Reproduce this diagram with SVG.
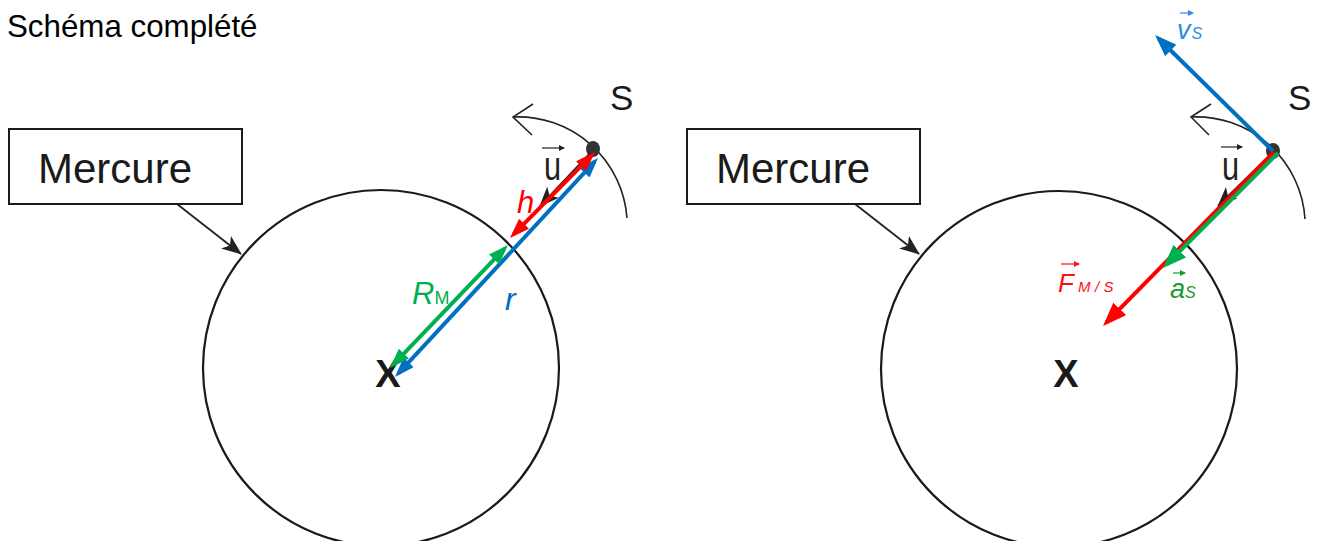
<svg xmlns="http://www.w3.org/2000/svg" width="1319" height="541" viewBox="0 0 1319 541">
<style>
text{font-family:"Liberation Sans",Arial,sans-serif}
.it{font-style:italic}
.planet{fill:none;stroke:#1a1a1a;stroke-width:2.2}
.box{fill:#fff;stroke:#1a1a1a;stroke-width:2}
.orbit{fill:none;stroke:#222;stroke-width:1.6}
.ptr{stroke:#222;stroke-width:1.8;fill:none}
.blue{stroke:#0070C0;stroke-width:4}
.red{stroke:#FF0000;stroke-width:4}
.green{stroke:#00B050;stroke-width:4}
.tiny{stroke-width:1.2}
</style>
<defs>
<marker id="mB" viewBox="0 0 20 14" refX="15" refY="7" markerWidth="20" markerHeight="14" markerUnits="userSpaceOnUse" orient="auto-start-reverse"><path d="M0,0 L20,7 L0,14 z" fill="#0070C0"/></marker>
<marker id="mR" viewBox="0 0 20 14" refX="15" refY="7" markerWidth="20" markerHeight="14" markerUnits="userSpaceOnUse" orient="auto-start-reverse"><path d="M0,0 L20,7 L0,14 z" fill="#FF0000"/></marker>
<marker id="mG" viewBox="0 0 20 14" refX="15" refY="7" markerWidth="20" markerHeight="14" markerUnits="userSpaceOnUse" orient="auto-start-reverse"><path d="M0,0 L20,7 L0,14 z" fill="#00B050"/></marker>
<marker id="mB2" viewBox="0 0 22 16" refX="17" refY="8" markerWidth="22" markerHeight="16" markerUnits="userSpaceOnUse" orient="auto"><path d="M0,0 L22,8 L0,16 z" fill="#0070C0"/></marker>
<marker id="mR2" viewBox="0 0 24 18" refX="19" refY="9" markerWidth="24" markerHeight="18" markerUnits="userSpaceOnUse" orient="auto"><path d="M0,0 L24,9 L0,18 z" fill="#FF0000"/></marker>
<marker id="mG2" viewBox="0 0 24 18" refX="19" refY="9" markerWidth="24" markerHeight="18" markerUnits="userSpaceOnUse" orient="auto"><path d="M0,0 L24,9 L0,18 z" fill="#00B050"/></marker>
<marker id="mK" viewBox="0 0 20 16" refX="19" refY="8" markerWidth="20" markerHeight="16" markerUnits="userSpaceOnUse" orient="auto"><path d="M0,0 L20,8 L0,16 L5,8 z" fill="#222"/></marker>
<marker id="mKs" viewBox="0 0 6 6" refX="5" refY="3" markerWidth="6" markerHeight="6" markerUnits="userSpaceOnUse" orient="auto"><path d="M0,0 L6,3 L0,6 z" fill="context-stroke"/></marker>
</defs>

<text x="7" y="37" font-size="31.3" fill="#000">Schéma complété</text>

<!-- LEFT SCENE -->
<g id="planet-left">
<circle class="planet" cx="381" cy="368" r="178"/>
<text x="388" y="387" font-size="38" font-weight="bold" text-anchor="middle" fill="#1a1a1a">X</text>
</g>
<g id="mercure-left">
<rect class="box" x="9" y="129" width="233" height="75"/>
<text x="38" y="183" font-size="42" fill="#1a1a1a">Mercure</text>
</g>
<g id="satellite-left">
<path class="orbit" d="M513,117 A109,109 0 0 1 627,218"/>
<path class="orbit" d="M533,104 L513,117 L532,135"/>
<ellipse cx="593" cy="149" rx="7" ry="8" fill="#333"/>
<text x="610" y="110" font-size="35" fill="#1a1a1a">S</text>
</g>

<!-- RIGHT SCENE -->
<g id="planet-right">
<circle class="planet" cx="1059" cy="369" r="178"/>
<text x="1066" y="387" font-size="38" font-weight="bold" text-anchor="middle" fill="#1a1a1a">X</text>
</g>
<g id="mercure-right">
<rect class="box" x="687" y="129" width="233" height="75"/>
<text x="716" y="183" font-size="42" fill="#1a1a1a">Mercure</text>
</g>
<g id="satellite-right">
<path class="orbit" d="M1191,117 A109,109 0 0 1 1305,219"/>
<path class="orbit" d="M1211,104 L1191,117 L1209,135"/>
<ellipse cx="1273" cy="151" rx="7" ry="8" fill="#333"/>
<text x="1288" y="110" font-size="35" fill="#1a1a1a">S</text>
</g>

<g id="connectors">
<line class="ptr" x1="177" y1="204" x2="241" y2="254" marker-end="url(#mK)"/>
<line class="ptr" x1="855" y1="204" x2="919" y2="254" marker-end="url(#mK)"/>
<!-- unit vectors u -->
<line class="ptr" x1="590" y1="153" x2="540" y2="206" marker-end="url(#mK)"/>
<line class="ptr" x1="1270" y1="155" x2="1218" y2="206" marker-end="url(#mK)"/>
<!-- left dimension arrows -->
<line class="blue" x1="594.6" y1="161.7" x2="398.4" y2="373.3" marker-start="url(#mB)" marker-end="url(#mB)"/>
<line class="red" x1="591.5" y1="155.6" x2="513.5" y2="234.4" marker-start="url(#mR)" marker-end="url(#mR)"/>
<line class="green" x1="504.5" y1="248.6" x2="393.5" y2="364.4" marker-start="url(#mG)" marker-end="url(#mG)"/>
<!-- right vectors -->
<line class="blue" x1="1273" y1="151" x2="1158.6" y2="38.5" marker-end="url(#mB2)"/>
<line class="red" x1="1274" y1="152" x2="1106.5" y2="322.4" marker-end="url(#mR2)"/>
<line class="green" x1="1278" y1="153" x2="1166.5" y2="264.5" marker-end="url(#mG2)"/>
</g>

<g id="labels">
<!-- left u -->
<line class="tiny" stroke="#222" x1="542" y1="148" x2="564" y2="148" marker-end="url(#mKs)"/>
<text transform="translate(544,180) scale(0.75,1)" font-size="41" fill="#222">u</text>
<text class="it" x="517" y="213" font-size="31" fill="#FF0000">h</text>
<text x="412" y="304" fill="#00B050"><tspan class="it" font-size="31">R</tspan><tspan font-size="18">M</tspan></text>
<text class="it" x="505" y="310" font-size="32" fill="#0070C0">r</text>
<!-- right u -->
<line class="tiny" stroke="#222" x1="1221" y1="147" x2="1242" y2="147" marker-end="url(#mKs)"/>
<text transform="translate(1222,180) scale(0.75,1)" font-size="41" fill="#222">u</text>
<!-- v_S -->
<line class="tiny" stroke="#2E8BE6" x1="1180" y1="13" x2="1193" y2="13" marker-end="url(#mKs)"/>
<text x="1177" y="38.5" fill="#2E8BE6"><tspan class="it" font-size="27">v</tspan><tspan class="it" font-size="16" dx="1">S</tspan></text>
<!-- F_M/S -->
<line class="tiny" stroke="#FF1010" x1="1061" y1="264" x2="1079" y2="264" marker-end="url(#mKs)"/>
<text x="1058" y="291.5" fill="#FF1010"><tspan class="it" font-size="26">F</tspan><tspan class="it" font-size="15" dx="4" letter-spacing="4.5">M/S</tspan></text>
<!-- a_S -->
<line class="tiny" stroke="#1A9A30" x1="1173" y1="273" x2="1185" y2="273" marker-end="url(#mKs)"/>
<text x="1170" y="298" fill="#1A9A30"><tspan class="it" font-size="27">a</tspan><tspan class="it" font-size="16">S</tspan></text>
</g>
</svg>
